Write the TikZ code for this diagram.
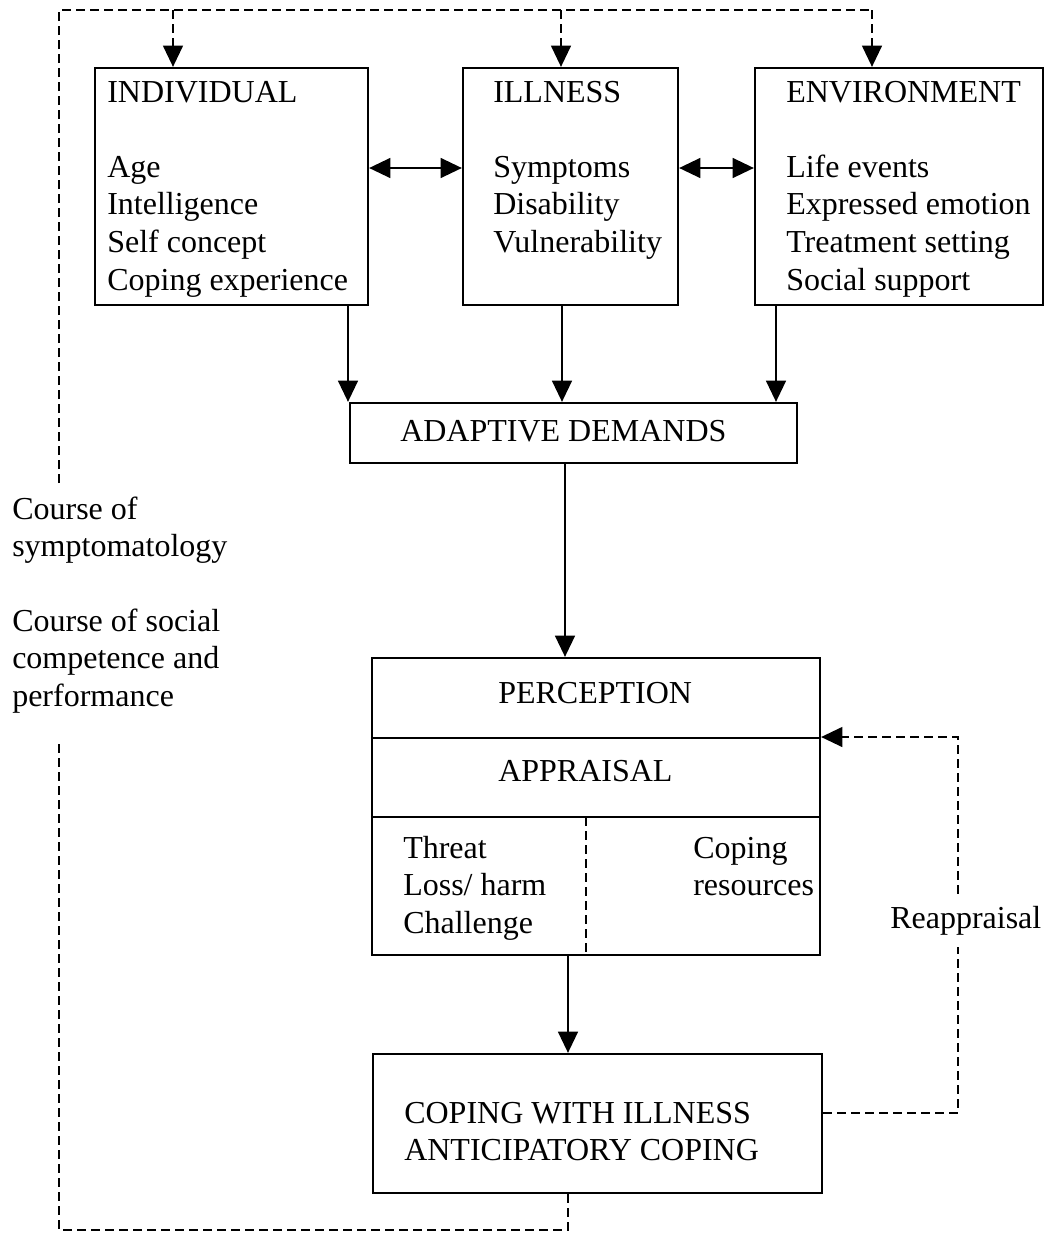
\documentclass[tikz,border=0pt]{standalone}
\usepackage{fontspec}
\setmainfont{Liberation Serif}
\usetikzlibrary{arrows.meta}
\newdimen\pxu \pxu=0.75pt
\newcommand{\txtlines}[1]{\begin{tabular}[t]{@{}l@{}}#1\end{tabular}}
\begin{document}
\begin{tikzpicture}[x=0.75pt,y=-0.75pt,
  box/.style={draw, line width=1.7pt, inner sep=0pt, rectangle},
  lbl/.style={anchor=base west, inner sep=0pt, font=\fontsize{24}{28.2}\selectfont},
  arr/.style={-{Triangle[length=16pt,width=15pt]}, line width=1.3pt},
  darr/.style={{Triangle[length=16pt,width=15pt]}-{Triangle[length=16pt,width=15pt]}, line width=1.3pt},
  dl/.style={line width=1.2pt, dash pattern=on 6.5pt off 4pt},
  tipd/.style={-{Triangle[length=16pt,width=15pt]}}]
\useasboundingbox (0,0) rectangle (1048,1236);

% boxes
\node[box, minimum width=273\pxu, minimum height=237\pxu] (ind) at (231.5,186.5) {};
\node[box, minimum width=215\pxu, minimum height=237\pxu] (ill) at (570.5,186.5) {};
\node[box, minimum width=288\pxu, minimum height=237\pxu] (env) at (899,186.5) {};
\node[box, minimum width=447\pxu, minimum height=60\pxu] (ad) at (573.5,433) {};
\node[box, minimum width=448\pxu, minimum height=297\pxu] (perc) at (596,806.5) {};
\node[box, minimum width=449\pxu, minimum height=139\pxu] (cop) at (597.5,1123.5) {};

% texts
\node[lbl] (indt) at (107,102) {\txtlines{INDIVIDUAL\\ \\Age\\Intelligence\\Self concept\\Coping experience}};
\node[lbl] (illt) at (493,102) {\txtlines{ILLNESS\\ \\Symptoms\\Disability\\Vulnerability}};
\node[lbl] (envt) at (786,102) {\txtlines{ENVIRONMENT\\ \\Life events\\Expressed emotion\\Treatment setting\\Social support}};
\node[lbl] (adt) at (400,441) {ADAPTIVE DEMANDS};
\node[lbl] (pt) at (498,703) {PERCEPTION};
\node[lbl] (apt) at (498,781) {APPRAISAL};
\node[lbl] (tht) at (403,858) {\txtlines{Threat\\Loss/ harm\\Challenge}};
\node[lbl] (crt) at (693,858) {\txtlines{Coping\\resources}};
\node[lbl] (copt) at (404,1123) {\txtlines{COPING WITH ILLNESS\\ANTICIPATORY COPING}};
\node[lbl] (c1) at (12,519) {\txtlines{Course of\\symptomatology}};
\node[lbl] (c2) at (12,631) {\txtlines{Course of social\\competence and\\performance}};
\node[lbl, inner ysep=9pt] (rea) at (890,928) {Reappraisal};

% dividers in perception box
\coordinate (y1) at (0,738);
\coordinate (y2) at (0,817);
\draw[line width=1.7pt] (perc.west |- y1) -- (perc.east |- y1);
\draw[line width=1.7pt] (perc.west |- y2) -- (perc.east |- y2);
\coordinate (dv) at (586,817);
\draw[dl] (dv) -- (dv |- perc.south);

% double arrows
\coordinate (yd) at (0,168);
\draw[darr] (ind.east |- yd) -- (ill.west |- yd);
\draw[darr] (ill.east |- yd) -- (env.west |- yd);

% solid arrows
\coordinate (a1) at (348,0);
\coordinate (a2) at (562,0);
\coordinate (a3) at (776,0);
\coordinate (a4) at (565,0);
\coordinate (a5) at (568,0);
\draw[arr] (ind.south -| a1) -- (ad.north -| a1);
\draw[arr] (ill.south -| a2) -- (ad.north -| a2);
\draw[arr] (env.south -| a3) -- (ad.north -| a3);
\draw[arr] (ad.south -| a4) -- (perc.north -| a4);
\draw[arr] (perc.south -| a5) -- (cop.north -| a5);

% top dashed feedback
\coordinate (upEnd) at (59,483);
\coordinate (topL) at (59,10);
\coordinate (t1) at (173,10);
\coordinate (t2) at (561,10);
\coordinate (t3) at (872,10);
\draw[dl] (upEnd) -- (topL) -- (t3);
\draw[dl, tipd] (t1) -- (t1 |- ind.north);
\draw[dl, tipd] (t2) -- (t2 |- ill.north);
\draw[dl, tipd] (t3) -- (t3 |- env.north);

% bottom dashed feedback
\coordinate (lowEnd) at (59,742);
\coordinate (bL) at (59,1230);
\coordinate (bx) at (568,1230);
\draw[dl] (cop.south -| bx) -- (bx) -- (bL) -- (lowEnd);

% reappraisal loop
\coordinate (rT) at (958,737);
\coordinate (rB) at (958,1113);
\draw[dl] (cop.east |- rB) -- (rB) -- (rB |- rea.south);
\draw[dl, tipd] (rT |- rea.north) -- (rT) -- (perc.east |- rT);
\end{tikzpicture}
\end{document}
